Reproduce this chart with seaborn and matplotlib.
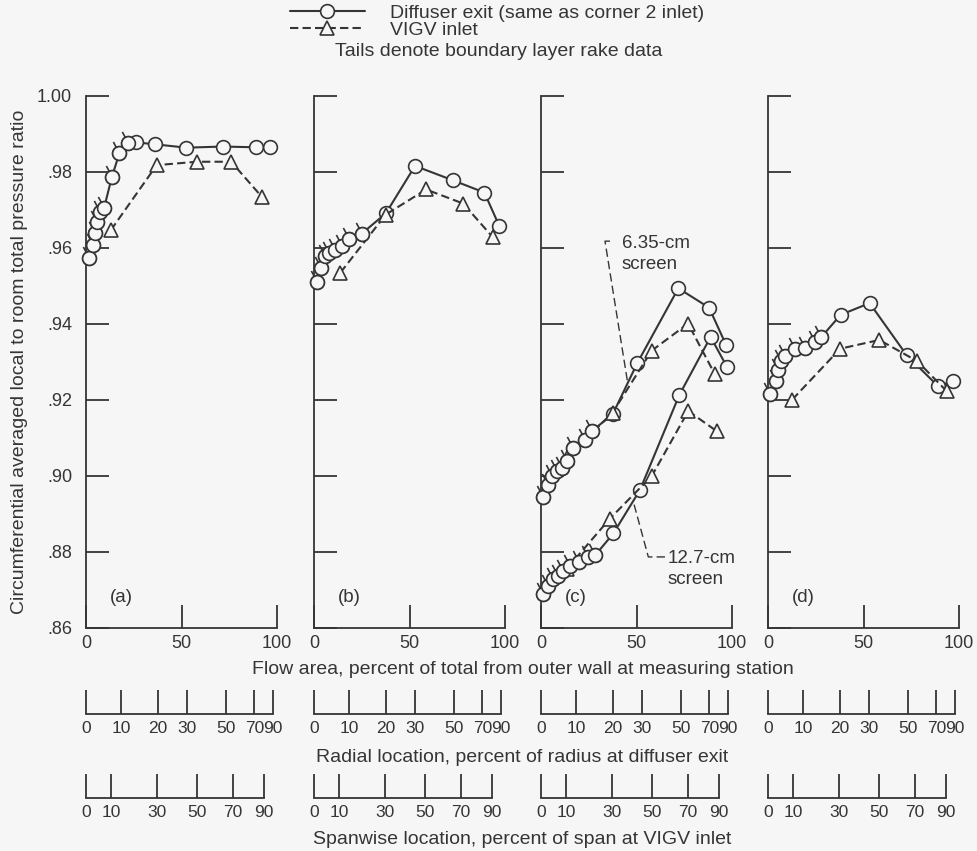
import numpy as np
import pandas as pd
import matplotlib.pyplot as plt
from matplotlib.path import Path
from matplotlib.lines import Line2D
import seaborn as sns

# ---- data: flow area (% of total from outer wall) vs pressure ratio ----
# panel (a)
a_exit_x = [1.5, 3.5, 4.5, 6, 7.5, 9.5, 13.5, 17.5, 22, 26, 36, 52.5, 71.5, 89, 96.5]
a_exit_y = [.9575, .9608, .9640, .9668, .9696, .9706, .9786, .9850, .9876, .9878, .9873, .9864, .9867, .9865, .9865]
a_vigv_x = [13, 37, 58, 76, 92]
a_vigv_y = [.9647, .9818, .9827, .9827, .9735]

# panel (b)
b_exit_x = [1.4, 3.5, 5.8, 8, 11, 14.5, 18.5, 25, 37.6, 52.9, 72.8, 89.2, 97]
b_exit_y = [.9511, .9548, .9578, .9586, .9594, .9605, .9623, .9638, .9691, .9816, .9778, .9746, .9658]
b_vigv_x = [13.8, 37.6, 58.7, 78.1, 93.5]
b_vigv_y = [.9535, .9688, .9754, .9717, .9629]

# panel (c), 6.35-cm screen
c1_exit_x = [1.2, 3.8, 5.6, 8.2, 10.8, 13.5, 16.9, 23, 26.5, 37.5, 50.5, 71.9, 88, 96.8]
c1_exit_y = [.8946, .8977, .8999, .9012, .9021, .9039, .9074, .9096, .9118, .9162, .9298, .9494, .9443, .9346]
c1_vigv_x = [13.5, 37.5, 58, 77, 91]
c1_vigv_y = [.9048, .9167, .9330, .9401, .9268]

# panel (c), 12.7-cm screen
c2_exit_x = [1.2, 3.8, 6.4, 9, 11.7, 15.2, 20, 24.8, 28.3, 37.9, 51.8, 72.4, 88.8, 97.5]
c2_exit_y = [.8689, .8711, .8729, .8738, .8751, .8764, .8775, .8787, .8791, .8849, .8963, .9213, .9366, .9286]
c2_vigv_x = [13.5, 36.1, 58, 77.1, 92]
c2_vigv_y = [.8756, .8888, .9000, .9171, .9118]

# panel (d)
d_exit_x = [1, 4, 5.3, 7, 9.1, 14, 19.3, 24.5, 28, 38, 53.2, 72.6, 88.9, 97]
d_exit_y = [.9216, .9249, .9278, .9302, .9316, .9333, .9336, .9353, .9366, .9424, .9455, .9318, .9237, .9249]
d_vigv_x = [12.7, 37.8, 58.3, 78.2, 93.6]
d_vigv_y = [.9201, .9335, .9358, .9302, .9223]

# number of leading points that are boundary layer rake data (drawn with tails)
a_tails, b_tails, c1_tails, c2_tails, d_tails = 9, 8, 9, 9, 9

panels = ['a', 'b', 'c', 'd']
y_ticks = [.86, .88, .90, .92, .94, .96, .98, 1.00]
y_tick_labels = ['.86', '.88', '.90', '.92', '.94', '.96', '.98', '1.00']
flow_ticks = [0, 50, 100]
radial_ticks = [0, 10, 20, 30, 50, 70, 90]
span_ticks = [0, 10, 30, 50, 70, 90]

# radial scale calibration as drawn (radius % -> flow area %)
radial_cal_pct = [0, 10, 20, 30, 50, 70, 90, 100]
radial_cal_flow = [0, 18.4, 37.5, 52.8, 73.5, 88.2, 97.9, 100]
HUB_RATIO = 0.5  # VIGV inlet annulus, hub/tip radius

# ---- long table ----
rows = []
def add(panel, curve, series, xs, ys, ntail):
    for i, (x, y) in enumerate(zip(xs, ys)):
        rows.append(dict(panel=panel, curve=curve, series=series, flow=x, ratio=y,
                         rake=(series == 'exit' and i < ntail)))

add('a', 'main', 'exit', a_exit_x, a_exit_y, a_tails)
add('a', 'main', 'vigv', a_vigv_x, a_vigv_y, 0)
add('b', 'main', 'exit', b_exit_x, b_exit_y, b_tails)
add('b', 'main', 'vigv', b_vigv_x, b_vigv_y, 0)
add('c', '6.35', 'exit', c1_exit_x, c1_exit_y, c1_tails)
add('c', '6.35', 'vigv', c1_vigv_x, c1_vigv_y, 0)
add('c', '12.7', 'exit', c2_exit_x, c2_exit_y, c2_tails)
add('c', '12.7', 'vigv', c2_vigv_x, c2_vigv_y, 0)
add('d', 'main', 'exit', d_exit_x, d_exit_y, d_tails)
add('d', 'main', 'vigv', d_vigv_x, d_vigv_y, 0)
df = pd.DataFrame(rows)

# ---- scale conversions for the lower scales ----
def flow_to_radial(f):
    return np.interp(np.asarray(f, float), radial_cal_flow, radial_cal_pct)

def radial_to_flow(r):
    return np.interp(np.asarray(r, float), radial_cal_pct, radial_cal_flow)

def flow_to_span(f):
    f = np.clip(np.asarray(f, float), 0, 100)
    k = 1 - HUB_RATIO ** 2
    return 100 * (1 - np.sqrt(1 - k * f / 100)) / (1 - HUB_RATIO)

def span_to_flow(s):
    s = np.asarray(s, float)
    k = 1 - HUB_RATIO ** 2
    return 100 * (1 - (1 - (1 - HUB_RATIO) * s / 100) ** 2) / k

# ---- style ----
bg = '#f6f6f6'
ink = '#353535'
sns.set_theme(style='ticks', rc={'figure.facecolor': bg, 'axes.facecolor': bg,
                                 'axes.edgecolor': ink, 'text.color': ink,
                                 'xtick.color': ink, 'ytick.color': ink})
plt.rcParams['font.family'] = ['Liberation Sans', 'DejaVu Sans']

fs_tick = 12.5
fs_text = 14
ms_o = 9.9
ms_t = 10
lw = 1.5
dash = (0, (4, 2))

# circle with a tail marker
ang = np.deg2rad(118)
tail_path = Path.make_compound_path(
    Path.unit_circle(),
    Path([[np.cos(ang), np.sin(ang)], [1.9 * np.cos(ang), 1.9 * np.sin(ang)]],
         [Path.MOVETO, Path.LINETO]))
tail_scale = np.max(np.abs(tail_path.vertices))

fig = plt.figure(figsize=(9.77, 8.51), dpi=100)
W, H = 977, 851
lefts = [86, 314, 541, 768]
ax_w, ax_top, ax_bot = 191, 96, 628

for k, (p, left) in enumerate(zip(panels, lefts)):
    ax = fig.add_axes([left / W, 1 - ax_bot / H, ax_w / W, (ax_bot - ax_top) / H])
    sub = df[df.panel == p]
    for (curve, series), g in sub.groupby(['curve', 'series'], sort=False):
        if series == 'exit':
            sns.lineplot(data=g, x='flow', y='ratio', ax=ax, color=ink, lw=lw,
                         marker='o', markersize=ms_o, markerfacecolor=bg,
                         markeredgecolor=ink, markeredgewidth=1.2,
                         sort=False, estimator=None, legend=False, clip_on=False, zorder=3)
            t = g[g['rake']]
            ax.plot(t['flow'], t['ratio'], linestyle='none', marker=tail_path,
                    markersize=ms_o * tail_scale, markerfacecolor=bg,
                    markeredgecolor=ink, markeredgewidth=1.2, clip_on=False, zorder=4)
        else:
            sns.lineplot(data=g, x='flow', y='ratio', ax=ax, color=ink, lw=lw,
                         linestyle=dash, marker='^', markersize=ms_t, markerfacecolor=bg,
                         markeredgecolor=ink, markeredgewidth=1.2,
                         sort=False, estimator=None, legend=False, clip_on=False, zorder=3)

    ax.set_xlim(0, 100)
    ax.set_ylim(.86, 1.00)
    ax.set_xticks(flow_ticks)
    ax.set_xticklabels([str(v) for v in flow_ticks])
    ax.set_yticks(y_ticks)
    if k == 0:
        ax.set_yticklabels(y_tick_labels)
    else:
        ax.set_yticklabels([])
    ax.set_xlabel('')
    ax.set_ylabel('')
    for s in ['top', 'right']:
        ax.spines[s].set_visible(False)
    for s in ['left', 'bottom']:
        ax.spines[s].set_linewidth(1.3)
    ax.tick_params(axis='both', direction='in', length=16.5, width=1.3, labelsize=fs_tick)
    ax.tick_params(axis='x', pad=5, labelsize=fs_tick + 0.5)
    ax.tick_params(axis='y', pad=10, labelsize=fs_tick + 0.5)
    ax.text(12.5, .868, f'({p})', fontsize=fs_text - 0.5, ha='left', va='center')

    # radial location scale
    sec = ax.secondary_xaxis(-(714 - ax_bot) / (ax_bot - ax_top),
                             functions=(flow_to_radial, radial_to_flow))
    sec.set_xticks(radial_ticks)
    sec.set_xticklabels([str(v) for v in radial_ticks])
    sec.tick_params(direction='in', length=17, width=1.3, pad=5, labelsize=fs_tick, colors=ink)
    sec.spines['bottom'].set_bounds(0, 90)
    sec.spines['bottom'].set_linewidth(1.3)

    # spanwise location scale
    sec2 = ax.secondary_xaxis(-(798 - ax_bot) / (ax_bot - ax_top),
                              functions=(flow_to_span, span_to_flow))
    sec2.set_xticks(span_ticks)
    sec2.set_xticklabels([str(v) for v in span_ticks])
    sec2.tick_params(direction='in', length=17, width=1.3, pad=5, labelsize=fs_tick, colors=ink)
    sec2.spines['bottom'].set_bounds(0, 90)
    sec2.spines['bottom'].set_linewidth(1.3)

    if p == 'c':
        # leader lines for the screen labels
        ax.plot([36.1, 33.5, 45.2], [.9618, .9618, .9251], color=ink, lw=1,
                linestyle=(0, (6, 3)), clip_on=False)
        ax.text(42.3, .9585, '6.35-cm\nscreen', fontsize=fs_text - 0.5, ha='left', va='center',
                linespacing=1.3)
        ax.plot([64.9, 56.2, 48.3], [.8787, .8787, .8933], color=ink, lw=1,
                linestyle=(0, (6, 3)), clip_on=False)
        ax.text(66.5, .8755, '12.7-cm\nscreen', fontsize=fs_text - 0.5, ha='left', va='center',
                linespacing=1.3)

# axis titles
cx = (lefts[0] + lefts[-1] + ax_w) / 2 / W
fig.text(cx, 1 - 669 / H, 'Flow area, percent of total from outer wall at measuring station',
         ha='center', va='center', fontsize=fs_text)
fig.text(cx, 1 - 757 / H, 'Radial location, percent of radius at diffuser exit',
         ha='center', va='center', fontsize=fs_text)
fig.text(cx, 1 - 840 / H, 'Spanwise location, percent of span at VIGV inlet',
         ha='center', va='center', fontsize=fs_text)
fig.text(20 / W, 1 - 362 / H, 'Circumferential averaged local to room total pressure ratio',
         ha='center', va='center', rotation=90, fontsize=fs_text)

# legend
handles = [
    Line2D([], [], color=ink, lw=lw, marker='o', markersize=ms_o,
           markerfacecolor=bg, markeredgecolor=ink, markeredgewidth=1.2),
    Line2D([], [], color=ink, lw=lw, linestyle=dash, marker='^', markersize=ms_t,
           markerfacecolor=bg, markeredgecolor=ink, markeredgewidth=1.2),
]
fig.legend(handles, ['Diffuser exit (same as corner 2 inlet)', 'VIGV inlet'],
           loc='upper left', bbox_to_anchor=(290 / W, 1 - 4 / H), frameon=False,
           fontsize=fs_text, handlelength=3.85, handletextpad=1.3, labelspacing=0.0,
           borderpad=0, borderaxespad=0, numpoints=1)
fig.text(335 / W, 1 - 51 / H, 'Tails denote boundary layer rake data',
         ha='left', va='center', fontsize=fs_text)

fig.savefig('out.png', dpi=100, facecolor=bg)
